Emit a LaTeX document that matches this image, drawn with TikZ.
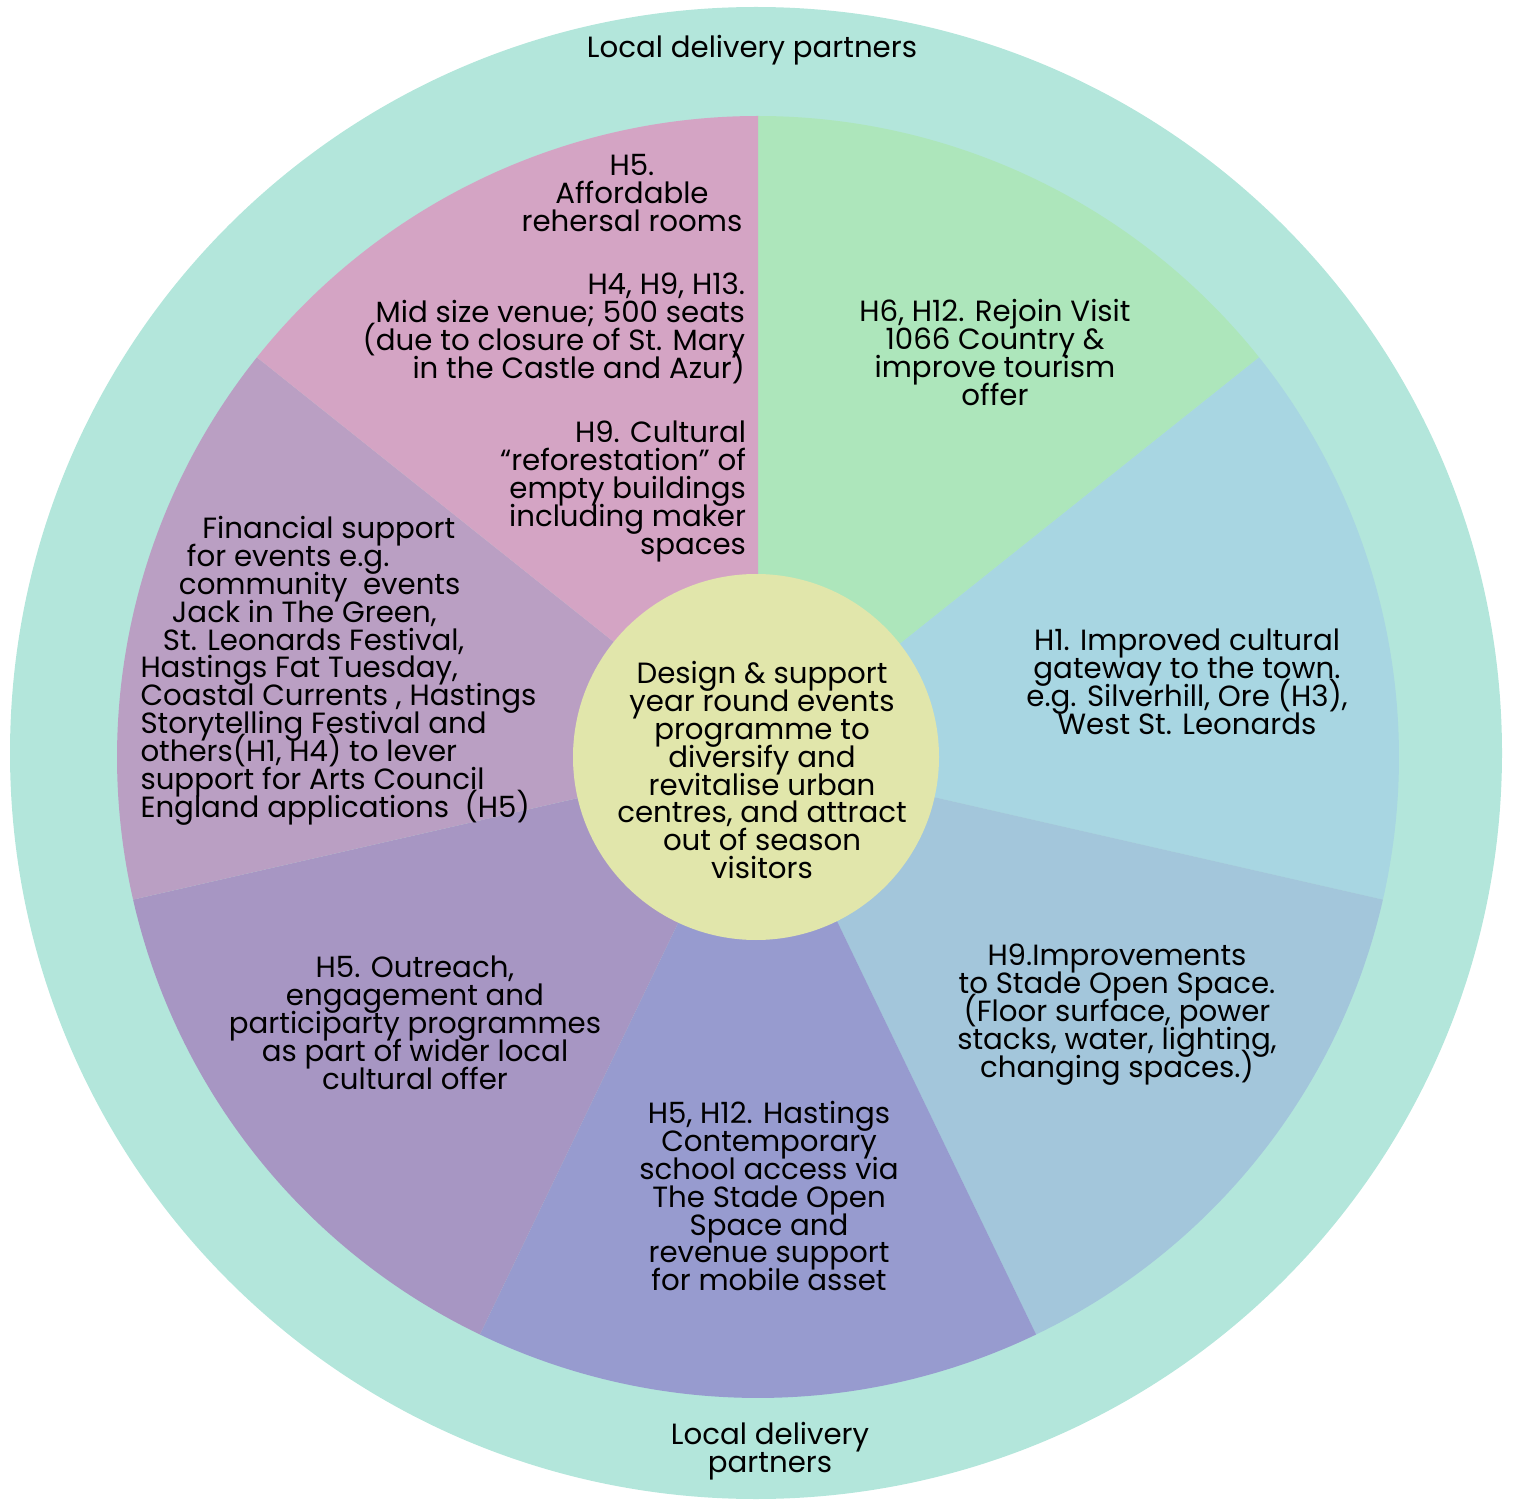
\documentclass[tikz,border=0pt]{standalone}
\usepackage{fontspec}
\setmainfont{Poppins}
\definecolor{ringc}{HTML}{B3E6DB}
\definecolor{sgreen}{HTML}{ADE6BB}
\definecolor{sblue}{HTML}{A8D6E2}
\definecolor{slowright}{HTML}{A3C6DB}
\definecolor{sbottom}{HTML}{979BCF}
\definecolor{slowleft}{HTML}{A796C3}
\definecolor{sleft}{HTML}{BA9FC3}
\definecolor{stopleft}{HTML}{D4A4C4}
\definecolor{corec}{HTML}{E1E6AB}
\newcommand{\diagfont}{\fontsize{16.65pt}{15.9pt}\selectfont\lineskiplimit=-100pt\relax\lineskip=0pt\relax}
\begin{document}
\begin{tikzpicture}[x=0.02cm,y=0.02cm,
  txt/.style={inner sep=0pt, outer sep=0pt, text=black, font=\diagfont}]
\useasboundingbox (0,0) rectangle (1515,-1503);
% outer ring
\fill[ringc] (756,-753) circle[radius=746];
% pie sectors
\coordinate (C) at (758,-757);
\fill[sgreen]    (C) -- ++(90:641) arc[start angle=90, end angle=38.571, radius=641] -- cycle;
\fill[sblue]     (C) -- ++(38.571:641) arc[start angle=38.571, end angle=-12.857, radius=641] -- cycle;
\fill[slowright] (C) -- ++(-12.857:641) arc[start angle=-12.857, end angle=-64.286, radius=641] -- cycle;
\fill[sbottom]   (C) -- ++(-64.286:641) arc[start angle=-64.286, end angle=-115.714, radius=641] -- cycle;
\fill[slowleft]  (C) -- ++(-115.714:641) arc[start angle=-115.714, end angle=-167.143, radius=641] -- cycle;
\fill[sleft]     (C) -- ++(-167.143:641) arc[start angle=-167.143, end angle=-218.571, radius=641] -- cycle;
\fill[stopleft]  (C) -- ++(141.429:641) arc[start angle=141.429, end angle=90, radius=641] -- cycle;
% centre
\fill[corec] (756,-757) circle[radius=183];

% texts
\node[txt, anchor=base] (ringtop) at (752,-58) {Local delivery partners};
\node[txt, anchor=north, align=center] (ringbot) at (770,-1422) {Local delivery\\partners};
\node[txt, anchor=north, align=center] (core) at (762,-661) {Design \& support\\year round events\\programme to\\diversify and\\revitalise urban\\centres, and attract\\out of season\\visitors};
\node[txt, anchor=north, align=center] (tgreen) at (995,-299) {H6, H12. Rejoin Visit\\1066 Country \&\\improve tourism\\offer};
\node[txt, anchor=north, align=center] (tblue) at (1187,-629) {H1. Improved cultural\\gateway to the town.\\e.g. Silverhill, Ore (H3),\\West St. Leonards};
\node[txt, anchor=north, align=center] (tlowright) at (1117,-944) {H9.Improvements\\to Stade Open Space.\\(Floor surface, power\\stacks, water, lighting,\\changing spaces.)};
\node[txt, anchor=north, align=center] (tbottom) at (769,-1101) {H5, H12. Hastings\\Contemporary\\school access via\\The Stade Open\\Space and\\revenue support\\for mobile asset};
\node[txt, anchor=north, align=center] (tlowleft) at (415,-956) {H5. Outreach,\\engagement and\\participarty programmes\\as part of wider local\\cultural offer};
\node[txt, anchor=north west, align=left] (tleft) at (140.5,-516) {\hspace*{1.24cm}Financial support\\\hspace*{0.93cm}for events e.g.\\\hspace*{0.77cm}community\ \ events\\\hspace*{0.63cm}Jack in The Green,\\\hspace*{0.45cm}St. Leonards Festival,\\Hastings Fat Tuesday,\\Coastal Currents , Hastings\\Storytelling Festival and\\others(H1, H4) to lever\\support for Arts Council\\England applications\ \ (H5)};
\node[txt, anchor=north, align=center] (ttopleftA) at (632,-154) {H5.\\Affordable\\rehersal rooms};
\node[txt, anchor=north east, align=right] (ttopleftB) at (745,-273) {H4, H9, H13.\\Mid size venue; 500 seats\\(due to closure of St. Mary\\in the Castle and Azur)};
\node[txt, anchor=north east, align=right] (ttopleftC) at (746,-421) {H9. Cultural\\“reforestation” of\\empty buildings\\including maker\\spaces};
\end{tikzpicture}
\end{document}
